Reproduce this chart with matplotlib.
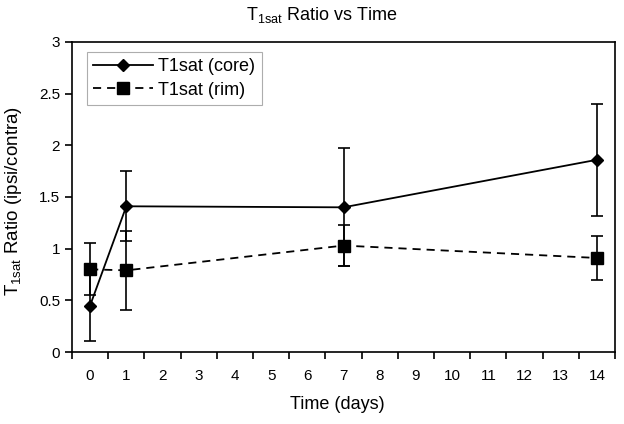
import numpy as np
import matplotlib.pyplot as plt

plt.rcParams['font.family'] = ['Liberation Sans', 'DejaVu Sans']

days = [0, 1, 7, 14]
day_labels = [str(d) for d in range(15)]
core = [0.45, 1.41, 1.40, 1.86]
core_err = [0.34, 0.34, 0.57, 0.54]
rim = [0.80, 0.79, 1.03, 0.91]
rim_err = [0.25, 0.38, 0.20, 0.21]
y_ticks = [0, 0.5, 1, 1.5, 2, 2.5, 3]


def main():
    fig = plt.figure(figsize=(6.24, 4.24), dpi=100)
    ax = fig.add_axes([0.1154, 0.1698, 0.8702, 0.7312])

    dash = (0, (4.5, 3.3))
    # error bars first, then lines + markers (keeps legend handles clean)
    ax.errorbar(days, core, yerr=core_err, fmt='none', ecolor='black',
                capsize=4.3, elinewidth=1.2, capthick=1.2, zorder=2)
    ax.errorbar(days, rim, yerr=rim_err, fmt='none', ecolor='black',
                capsize=4.3, elinewidth=1.2, capthick=1.2, zorder=2)
    ax.plot(days, core, color='black', linestyle='-', linewidth=1.3,
            marker='D', markersize=6, label='T1sat (core)', zorder=3)
    ax.plot(days, rim, color='black', linestyle=dash, linewidth=1.3,
            marker='s', markersize=8, label='T1sat (rim)', zorder=3)

    ax.set_xlim(-0.5, 14.5)
    ax.set_ylim(0, 3)
    ax.set_xticks(np.arange(-0.5, 15, 1))
    ax.set_xticklabels([])
    ax.set_xticks(range(15), minor=True)
    ax.set_xticklabels(day_labels, minor=True, fontsize=11)
    ax.tick_params(axis='x', which='minor', length=0, pad=12)
    ax.tick_params(axis='x', which='major', length=5, width=1.2)
    ax.set_yticks(y_ticks)
    ax.set_yticklabels([f'{v:g}' for v in y_ticks], fontsize=11)
    ax.tick_params(axis='y', length=5, width=1.2)
    for s in ax.spines.values():
        s.set_linewidth(1.2)

    ax.set_xlabel('Time (days)', fontsize=13)
    ax.xaxis.set_label_coords((337 - 72) / 543, (352 - 396) / 310)
    ax.set_ylabel('T$_{\\mathregular{1sat}}$ Ratio (ipsi/contra)', fontsize=13.5)
    ax.yaxis.set_label_coords((24 - 72) / 543, (352 - 201) / 310)
    fig.text(322 / 624, 1 - 15 / 424, 'T$_{\\mathregular{1sat}}$ Ratio vs Time',
             fontsize=13, ha='center', va='center')

    leg = ax.legend(loc='upper left', bbox_to_anchor=((87 - 72) / 543, (352 - 52) / 310),
                    borderaxespad=0, fontsize=13, frameon=True, fancybox=False,
                    edgecolor='#999999', handlelength=3.3, labelspacing=0.35,
                    borderpad=0.35, handletextpad=0.3)
    leg.get_frame().set_linewidth(0.8)

    fig.savefig('out.png', dpi=100)


if __name__ == "__main__":
    main()
